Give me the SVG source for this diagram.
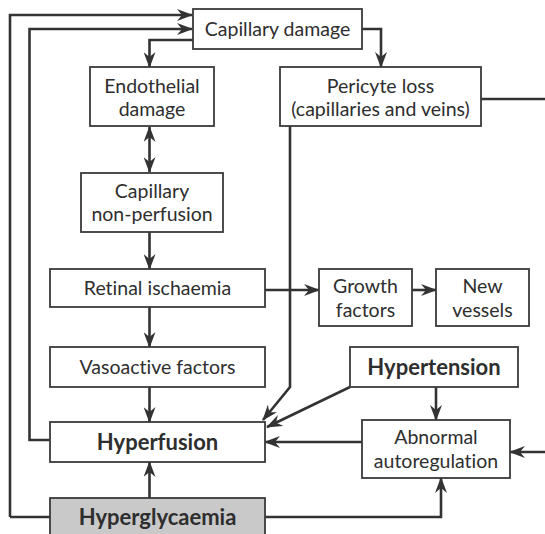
<svg xmlns="http://www.w3.org/2000/svg" width="545" height="534" viewBox="0 0 545 534">
<style>
.box{fill:#ffffff;stroke:#3a3a3a;stroke-width:1.8}
.hg{fill:#c9c9c9;stroke:#3a3a3a;stroke-width:1.8}
.t{font-family:"Lato","Open Sans","Liberation Sans",sans-serif;font-size:19.5px;fill:#2e2e2e;text-anchor:middle;font-variant-ligatures:none}
.b{font-weight:bold;font-size:22px}
.c{fill:none;stroke:#333;stroke-width:2.6}
.a{marker-end:url(#ah)}
</style>
<defs>
<marker id="ah" viewBox="0 0 16 12" refX="15" refY="6" markerWidth="16" markerHeight="12" markerUnits="userSpaceOnUse" orient="auto-start-reverse">
<path d="M0,0 L16,6 L0,12 L5,6 z" fill="#333"/>
</marker>
</defs>
<rect width="545" height="534" fill="#ffffff"/>
<g id="connectors">
<path class="c a" d="M10,517 L10,15 L192,15"/>
<path class="c a" d="M50,440 L29.5,440 L29.5,29 L192,29"/>
<path class="c a" d="M193,40 L149.5,40 L149.5,67"/>
<path class="c a" d="M362,29 L381,29 L381,67"/>
<path class="c" d="M481,99 L545,99"/>
<path class="c a" d="M545,452 L510,452"/>
<path class="c a" d="M290,126 L290,387 L263,420"/>
<path class="c a" style="marker-start:url(#ah)" d="M149.5,127 L149.5,172"/>
<path class="c a" d="M149.5,232 L149.5,269"/>
<path class="c a" d="M265,290 L319,290"/>
<path class="c a" d="M412,290 L436,290"/>
<path class="c a" d="M149.5,307 L149.5,347"/>
<path class="c a" d="M149.5,387 L149.5,422"/>
<path class="c a" d="M350,387 L267,427"/>
<path class="c a" d="M436,387 L436,420"/>
<path class="c a" d="M362,442 L265,442"/>
<path class="c a" d="M149.5,498 L149.5,462"/>
<path class="c a" d="M265,517 L441,517 L441,478"/>
<path class="c" d="M10,517 L50,517"/>
</g>
<g id="capillary-damage"><rect class="box" x="193" y="9" width="169" height="40"/><text class="t" x="277.5" y="36">Capillary damage</text></g>
<g id="endothelial-damage"><rect class="box" x="90" y="67" width="124" height="59"/><text class="t" x="152" y="93">Endothelial</text><text class="t" x="152" y="116">damage</text></g>
<g id="pericyte-loss"><rect class="box" x="280" y="67" width="201" height="59"/><text class="t" x="380.5" y="93">Pericyte loss</text><text class="t" x="380.5" y="116">(capillaries and veins)</text></g>
<g id="capillary-non-perfusion"><rect class="box" x="81" y="173" width="142" height="59"/><text class="t" x="152" y="198">Capillary</text><text class="t" x="152" y="221">non-perfusion</text></g>
<g id="retinal-ischaemia"><rect class="box" x="50" y="269" width="215" height="38"/><text class="t" x="157.5" y="295">Retinal ischaemia</text></g>
<g id="growth-factors"><rect class="box" x="319" y="269" width="93" height="57"/><text class="t" x="365.5" y="293">Growth</text><text class="t" x="365.5" y="317">factors</text></g>
<g id="new-vessels"><rect class="box" x="436" y="269" width="93" height="57"/><text class="t" x="482.5" y="293">New</text><text class="t" x="482.5" y="317">vessels</text></g>
<g id="vasoactive-factors"><rect class="box" x="50" y="347" width="215" height="40"/><text class="t" x="157.5" y="374">Vasoactive factors</text></g>
<g id="hypertension"><rect class="box" x="350" y="347" width="168" height="40"/><text class="t b" x="434" y="375">Hypertension</text></g>
<g id="hyperfusion"><rect class="box" x="50" y="422" width="215" height="40"/><text class="t b" x="157.5" y="450">Hyperfusion</text></g>
<g id="abnormal-autoregulation"><rect class="box" x="362" y="420" width="148" height="58"/><text class="t" x="436" y="444">Abnormal</text><text class="t" x="436" y="468">autoregulation</text></g>
<g id="hyperglycaemia"><rect class="hg" x="50" y="498" width="215" height="44"/><text class="t b" x="157.5" y="525">Hyperglycaemia</text></g>
</svg>
